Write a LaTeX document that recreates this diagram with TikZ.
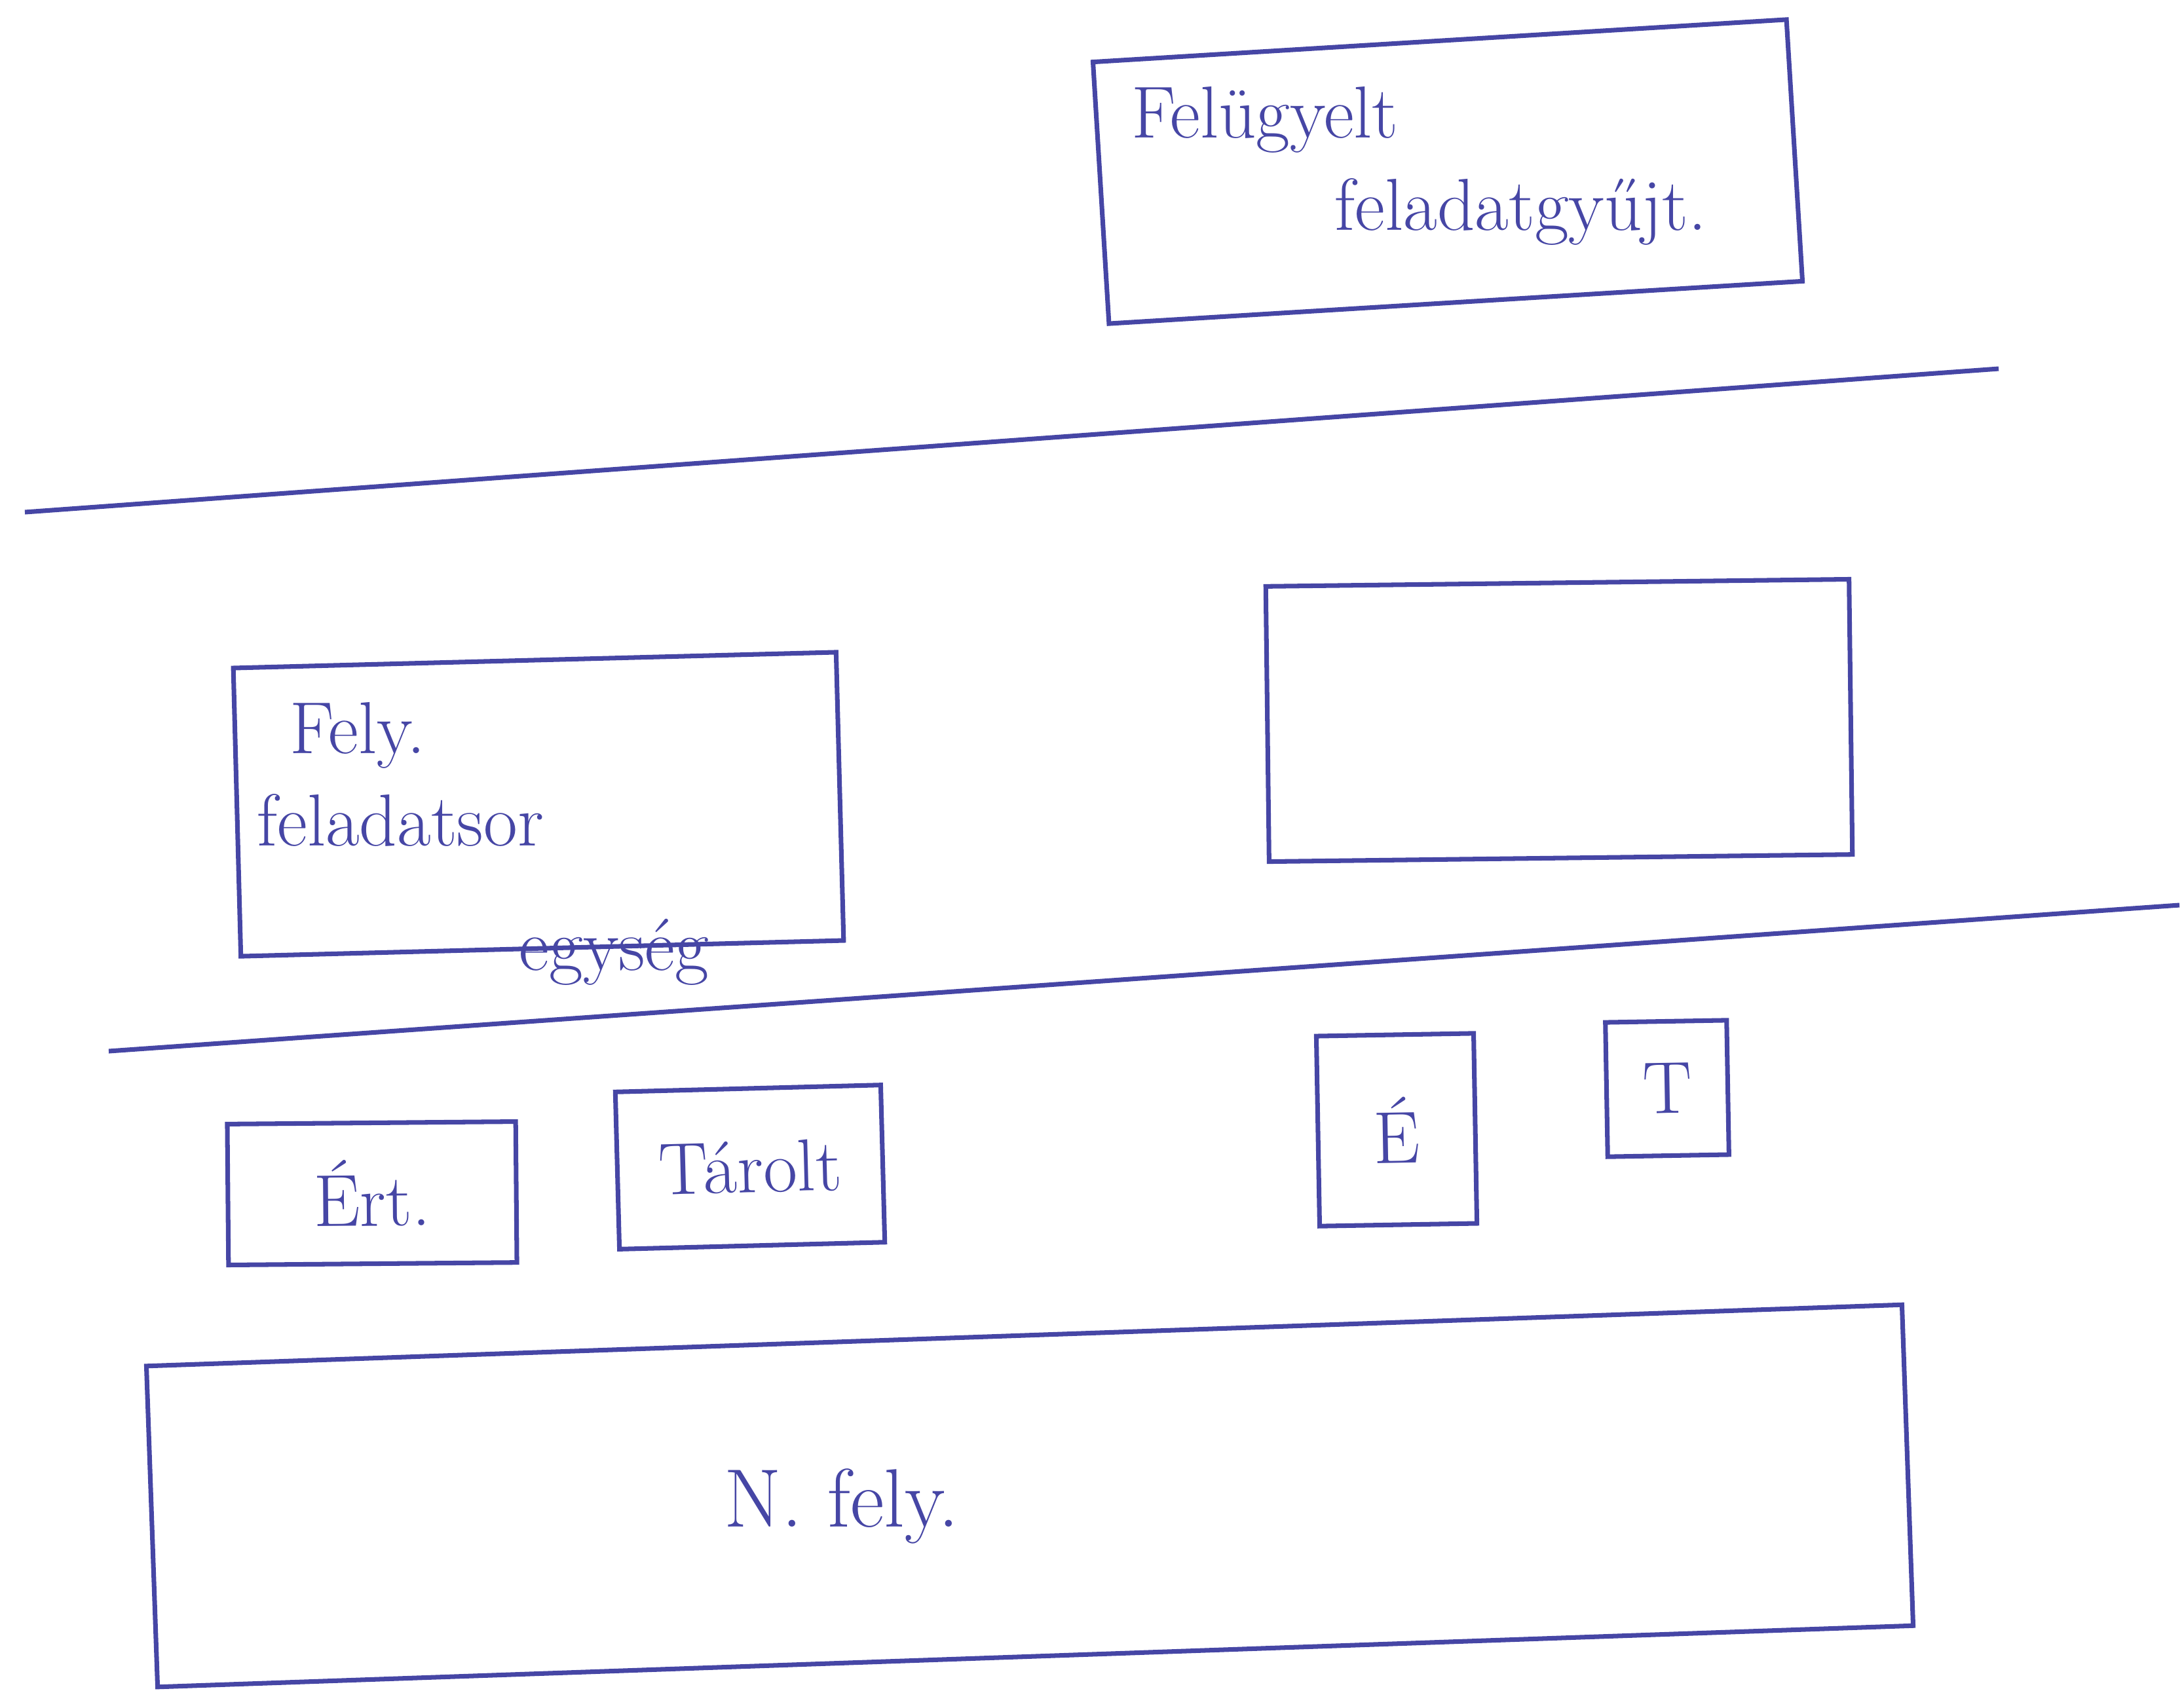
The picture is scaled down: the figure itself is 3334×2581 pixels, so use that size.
\documentclass[tikz,border=0pt]{standalone}
\usepackage{fontspec}
\usepackage{xcolor}
\usepackage{tikz}
\usetikzlibrary{positioning}
\definecolor{ink}{RGB}{70,70,165}

\begin{document}
\begin{tikzpicture}[
  x=0.01cm, y=-0.01cm,
  box/.style={rectangle, draw=ink, line width=2pt, inner sep=0pt, text=ink},
  hand/.style={text=ink, font=\fontsize{32}{40}\selectfont, align=left},
  sep/.style={draw=ink, line width=2pt}
]
  \useasboundingbox (0,0) rectangle (3334,2581);

  % top
  \node[box, minimum width=10.6cm, minimum height=4cm, rotate=3.5] (topbox) at (2210,262) {};
  \node[hand, anchor=north west] (toptext) at (1715,120) {Felügyelt\\\hspace*{3.1cm}feladatgyűjt.};

  \coordinate (sepa) at (38,782);
  \coordinate (sepb) at (3051,563);
  \draw[sep] (sepa) -- (sepb);

  % middle
  \node[box, minimum width=9.2cm, minimum height=4.4cm, rotate=1.5] (leftbox) at (822,1228) {};
  \node[hand, anchor=north west] (lefttext) at (380,1060) {\hspace*{0.5cm}Fely.\\feladatsor\\[14pt]\hspace*{4cm}egység};
  \node[box, minimum width=8.9cm, minimum height=4.2cm, rotate=0.7] (rightbox) at (2380,1100) {};

  \coordinate (sepc) at (166,1605);
  \coordinate (sepd) at (3327,1382);
  \draw[sep] (sepc) -- (sepd);

  % small boxes
  \node[box, hand, minimum width=4.4cm, minimum height=2.15cm, rotate=0.5] (ert) at (568,1822) {Ért.};
  \node[box, hand, minimum width=4.05cm, minimum height=2.4cm, rotate=1.5] (tarolt) at (1145,1782) {Tárolt};
  \node[box, hand, minimum width=2.4cm, minimum height=2.9cm, rotate=1] (ebox) at (2132,1725) {É};
  \node[box, hand, minimum width=1.85cm, minimum height=2.05cm, rotate=1] (tbox) at (2545,1662) {T};

  % bottom
  \node[box, minimum width=26.8cm, minimum height=4.9cm, rotate=2] (bottombox) at (1572,2284) {};
  \node[hand, font=\fontsize{36}{44}\selectfont] (bottomtext) at (1285,2300) {N. fely.};
\end{tikzpicture}
\end{document}
